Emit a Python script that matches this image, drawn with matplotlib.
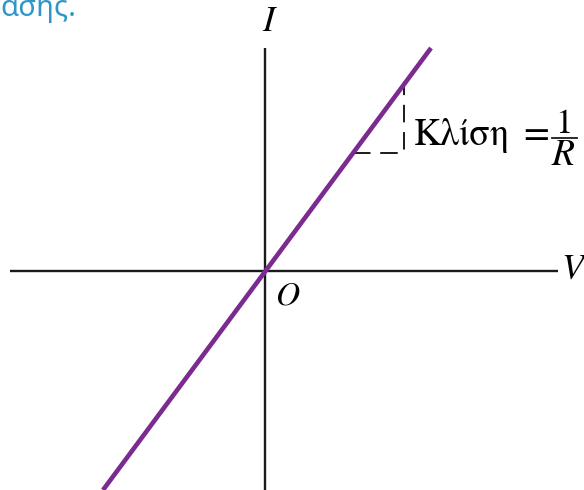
import matplotlib.pyplot as plt

# V-I characteristic of an ohmic conductor (arbitrary units, origin at O)
v_line = [-162, 166]
i_line = [-219, 223]

# slope triangle
tri_v = [88, 139, 139]
tri_i = [118, 118, 186]

axis_v = [-255, 293]
axis_i = [-219, 223]

PURPLE = "#7B2A8F"
BLUE = "#2E96C8"
SERIF = ["STIXGeneral", "Liberation Serif", "DejaVu Serif"]


def plotter():
    fig = plt.figure(figsize=(5.84, 4.90), dpi=100)
    ax = fig.add_axes([0, 0, 1, 1])
    ax.set_xlim(-265, 319)
    ax.set_ylim(-219, 271)
    ax.axis("off")

    # axes
    ax.plot(axis_v, [0, 0], color="#1a1a1a", lw=1.7, solid_capstyle="butt")
    ax.plot([0, 0], axis_i, color="#1a1a1a", lw=1.7, solid_capstyle="butt")

    # dashed slope triangle
    ax.plot(tri_v, tri_i, color="#1a1a1a", lw=1.4, dashes=(9, 5))

    # the line
    ax.plot(v_line, i_line, color=PURPLE, lw=3.3, solid_capstyle="butt")

    ax.text(3, 249, "I", fontsize=26, family=SERIF, style="italic",
            ha="center", va="center")
    ax.text(296, 1, "V", fontsize=26, family=SERIF, style="italic",
            ha="left", va="center")
    ax.text(23, -25, "O", fontsize=24, family=SERIF, style="italic",
            ha="center", va="center")

    ax.text(149, 126, "Κλίση", fontsize=27, family=SERIF,
            ha="left", va="baseline")
    ax.text(271, 135, "=", fontsize=27, family=SERIF,
            ha="center", va="center")
    ax.plot([287, 312], [133, 133], color="#1a1a1a", lw=1.3)
    ax.text(299, 146, "1", fontsize=25, family=SERIF,
            ha="center", va="center")
    ax.text(298, 115, "R", fontsize=27, family=SERIF, style="italic",
            ha="center", va="center")

    ax.text(-265, 255, "ασης.", fontsize=21, family=["Noto Sans", "DejaVu Sans"],
            color=BLUE, ha="left", va="baseline")
    return fig


if __name__ == "__main__":
    fig = plotter()
    fig.savefig("out.png", dpi=100)
